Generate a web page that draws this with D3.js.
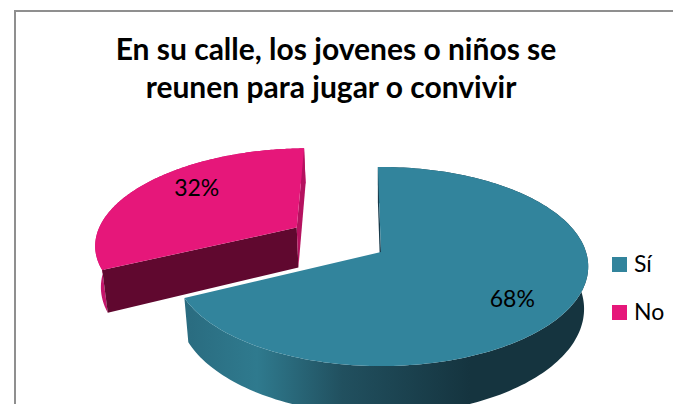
<!DOCTYPE html>
<html>
<head>
<meta charset="utf-8">
<script src="https://cdn.jsdelivr.net/npm/d3@7"></script>
<style>
  html, body { margin: 0; padding: 0; background: #fff; }
  svg { display: block; }
  text { font-family: Lato, "Open Sans", sans-serif; fill: #000; }
</style>
</head>
<body>
<div id="chart"></div>
<script>
const categories = ["Sí", "No"];
const values = [68, 32];
const title_lines = ["En su calle, los jovenes o niños se", "reunen para jugar o convivir"];

const top_colors = ["#32849c", "#e6177a"];
const cut_colors = ["#17394a", "#60082f"];
const explode = [0, 0.5];

const width = 673;
const height = 404;

// fake 3d pie: unit disc seen in perspective
const cx = 381;
const cy = 252;
const radius = 205;
const tilt = 97.4;
const persp = 0.146;
const depth = 41.5;
const rotation = -1 * Math.PI / 180;

function project(xw, yw, z) {
  const s = 1 / (1 - persp * yw);
  return [cx + radius * xw * s * (1 - 0.02 * z), cy + (tilt * yw + depth * z) * s];
}

const svg = d3.select("#chart").append("svg").attr("width", width).attr("height", height);

// gradient along the teal wall
const grad = svg.append("defs").append("linearGradient")
  .attr("id", "teal_wall")
  .attr("gradientUnits", "userSpaceOnUse")
  .attr("x1", 186).attr("x2", 470).attr("y1", 0).attr("y2", 0);
[[0, "#2a6c80"], [0.25, "#2f7a8e"], [0.55, "#21505f"], [1, "#15343f"]].forEach((d) => {
  grad.append("stop").attr("offset", d[0]).attr("stop-color", d[1]);
});

// chart frame
svg.append("path")
  .attr("d", d3.line()([[15, height], [15, 11], [width, 11]]))
  .attr("fill", "none")
  .attr("stroke", "#8f8f8f")
  .attr("stroke-width", 2);

svg.selectAll("text.title")
  .data(title_lines)
  .join("text")
  .attr("class", "title")
  .attr("x", (d, i) => (i == 0 ? 336 : 331))
  .attr("y", (d, i) => 60 + i * 38)
  .attr("text-anchor", "middle")
  .style("font-size", "30px")
  .style("font-weight", "bold")
  .text((d) => d);

const pie = d3.pie().sort(null).startAngle(rotation).endAngle(rotation + 2 * Math.PI);
const slices = pie(values);
const line = d3.line();

function offset(d, i) {
  const mid = (d.startAngle + d.endAngle) / 2;
  return [Math.sin(mid) * explode[i], -Math.cos(mid) * explode[i]];
}

function rim(d, i, z) {
  const [ox, oy] = offset(d, i);
  const steps = d3.range(0, 181).map((k) => d.startAngle + (d.endAngle - d.startAngle) * k / 180);
  return steps.map((a) => project(ox + Math.sin(a), oy - Math.cos(a), z));
}

function apex(d, i, z) {
  const [ox, oy] = offset(d, i);
  return project(ox, oy, z);
}

// pink first, it sits behind the teal slice
[1, 0].forEach((i) => {
  const d = slices[i];
  const g = svg.append("g").attr("class", "slice");
  const top = rim(d, i, 0);
  const bottom = rim(d, i, 1);

  // outer wall
  g.append("path")
    .attr("d", line(top.concat(bottom.slice().reverse())) + "Z")
    .attr("fill", i == 0 ? "url(#teal_wall)" : "#c4156b");

  // cut faces: start of the slice is the one we see, the teal end faces away
  g.append("path")
    .attr("d", line([top[0], apex(d, i, 0), apex(d, i, 1), bottom[0]]) + "Z")
    .attr("fill", cut_colors[i]);
  if (i == 1) {
    g.append("path")
      .attr("d", line([top[top.length - 1], apex(d, i, 0), apex(d, i, 1), bottom[bottom.length - 1]]) + "Z")
      .attr("fill", "#b5125f");
  }

  // top face
  g.append("path")
    .attr("d", line([apex(d, i, 0)].concat(top)) + "Z")
    .attr("fill", top_colors[i]);
});

// slice labels
const label_r = [0.71, 0.645];
const label_nudge = [9, -11];
slices.forEach((d, i) => {
  const [ox, oy] = offset(d, i);
  const mid = (d.startAngle + d.endAngle) / 2;
  const p = project(ox + Math.sin(mid) * label_r[i], oy - Math.cos(mid) * label_r[i], 0);
  svg.append("text")
    .attr("x", p[0])
    .attr("y", p[1] + label_nudge[i])
    .attr("dy", "0.35em")
    .attr("text-anchor", "middle")
    .style("font-size", "23px")
    .text(d.data + "%");
});

// legend
const legend_y = d3.scalePoint().domain(categories).range([265, 313]);
const legend = svg.append("g").attr("class", "legend");
categories.forEach((c, i) => {
  legend.append("rect")
    .attr("x", 612)
    .attr("y", legend_y(c) - 8)
    .attr("width", 15)
    .attr("height", 15)
    .attr("fill", top_colors[i]);
  legend.append("text")
    .attr("x", 634)
    .attr("y", legend_y(c) + 7)
    .style("font-size", "23px")
    .text(c);
});
</script>
</body>
</html>
